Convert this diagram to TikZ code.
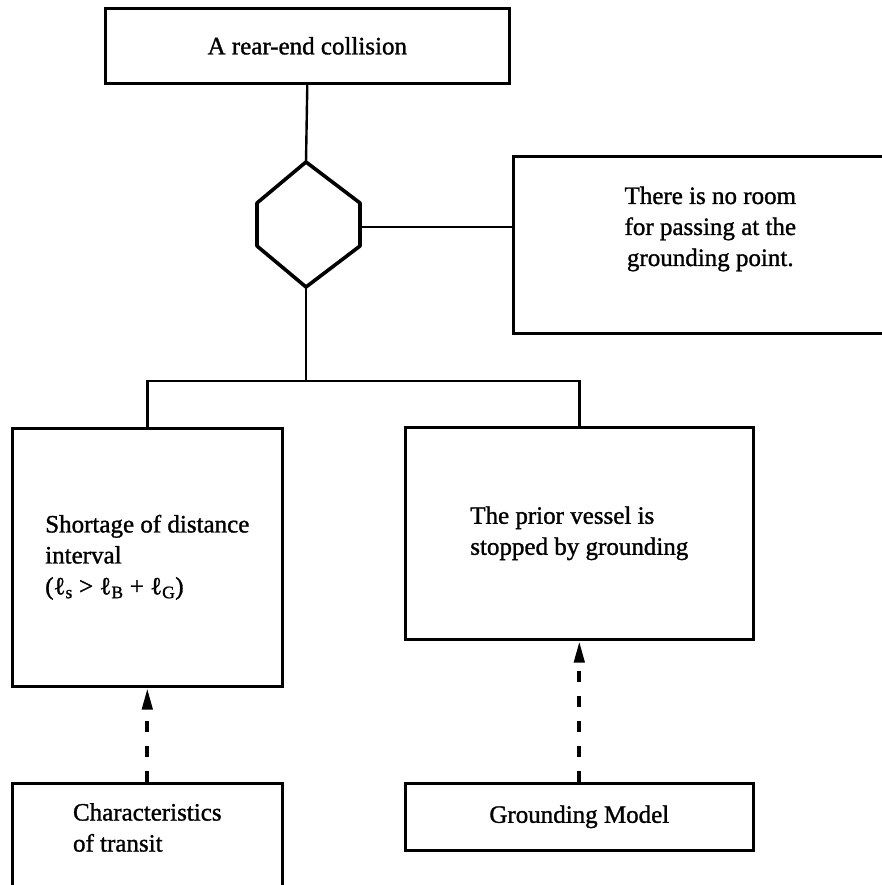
\documentclass[tikz,border=0pt]{standalone}
\usepackage{fontspec}
\setmainfont{Liberation Serif}[FakeBold=1.2]
\usetikzlibrary{arrows.meta,positioning}

\newcommand{\len}[1]{\symbol{"2113}\textsubscript{#1}}

\tikzset{
  block/.style={draw, line width=2.6pt, inner sep=0pt,
    font=\fontsize{25}{31}\selectfont},
  blocktext/.style={align=left, inner sep=0pt,
    font=\fontsize{25}{31}\selectfont},
  link/.style={line width=2.4pt},
  cause/.style={line width=4.2pt, dash pattern=on 11pt off 14pt,
    -{Triangle[length=22pt,width=10pt]}},
}

\begin{document}
\begin{tikzpicture}[x=1pt,y=-1pt]
    \useasboundingbox (0,0) rectangle (882,885);

    % Top event
    \node[block, minimum width=404, minimum height=75, anchor=north west]
        (collision) at (104,7) {A rear-end collision};

    % Condition gate (hexagon)
    \coordinate (hexT) at (306,162);
    \coordinate (hexTR) at (360,203);
    \coordinate (hexR) at (360,227);
    \coordinate (hexBR) at (360,246);
    \coordinate (hexB) at (306,287);
    \coordinate (hexBL) at (257,246);
    \coordinate (hexTL) at (257,203);
    \draw[line width=3.6pt, line join=round]
        (hexT) -- (hexTR) -- (hexBR) -- (hexB) -- (hexBL) -- (hexTL) -- cycle;

    % Condition
    \node[block, minimum width=394, minimum height=177, anchor=north west, align=center]
        (noroom) at (512,155) {There is no room\\for passing at the\\grounding point.\\[6pt]};

    % Basic events
    \node[block, minimum width=270, minimum height=258, anchor=north west, align=left]
        (shortage) at (11,427)
        {Shortage of distance\\interval\\(\len{s} > \len{B} + \len{G})};
    \node[block, minimum width=348, minimum height=212, anchor=north west, align=left]
        (prior) at (404,426) {The prior vessel is\\stopped by grounding};

    % Models
    \node[block, minimum width=270, minimum height=130, anchor=north west]
        (transit) at (11,782) {};
    \node[blocktext, below=21pt of transit.north] (transitText)
        {Characteristics\\of transit};
    \node[block, minimum width=348, minimum height=67, anchor=north west]
        (groundmodel) at (404,782) {Grounding Model};

    % Connections
    \coordinate (fork) at (306,381);
    \draw[link] (collision.south) -- (hexT);
    \draw[link, line width=1.5pt] (hexR) -- (hexR -| noroom.west);
    \draw[link] (hexB) -- (fork);
    \draw[link] (shortage.north) |- (fork) -| (prior.north);

    \draw[cause] (transit.north) -- (shortage.south);
    \draw[cause] (groundmodel.north) -- (prior.south);
\end{tikzpicture}
\end{document}
